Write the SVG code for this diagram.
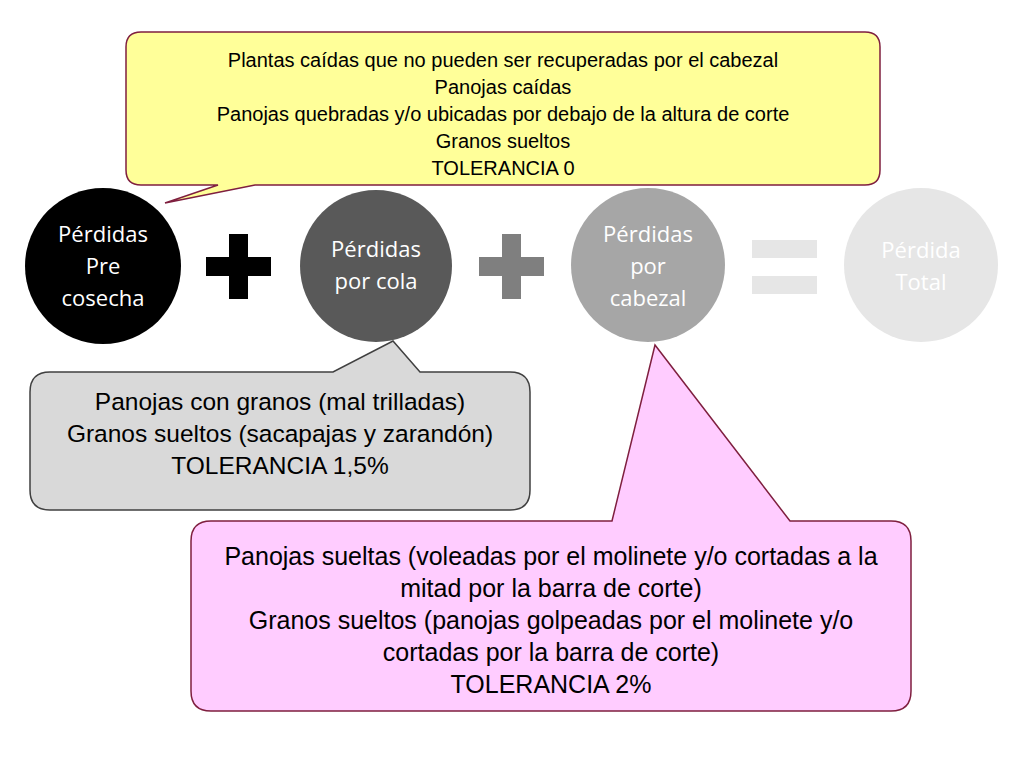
<svg xmlns="http://www.w3.org/2000/svg" width="1024" height="768" viewBox="0 0 1024 768">
<style>
.ct{font-family:"Open Sans","Liberation Sans",sans-serif;font-size:22px;fill:#fff;text-anchor:middle}
.cl{font-family:"Liberation Sans",Arial,sans-serif;text-anchor:middle;fill:#000}
</style>
<rect width="1024" height="768" fill="#fff"/>
<g id="n1"><circle cx="103" cy="266" r="78" fill="#000"/><text class="ct"><tspan x="103" y="242">Pérdidas</tspan><tspan x="103" y="274">Pre</tspan><tspan x="103" y="306">cosecha</tspan></text></g>
<g id="plus1" fill="#000"><rect x="229" y="234" width="19" height="65"/><rect x="206" y="257" width="65" height="19"/></g>
<g id="n2"><circle cx="376" cy="266" r="76" fill="#595959"/><text class="ct"><tspan x="376" y="257">Pérdidas</tspan><tspan x="376" y="289">por cola</tspan></text></g>
<g id="plus2" fill="#7f7f7f"><rect x="502" y="234" width="19" height="65"/><rect x="479" y="257" width="65" height="19"/></g>
<g id="n3"><circle cx="648" cy="265" r="77" fill="#a6a6a6"/><text class="ct"><tspan x="648" y="242">Pérdidas</tspan><tspan x="648" y="274">por</tspan><tspan x="648" y="306">cabezal</tspan></text></g>
<g id="eq" fill="#e6e6e6"><rect x="752" y="240" width="65" height="18"/><rect x="752" y="276" width="65" height="18"/></g>
<g id="n4"><circle cx="921" cy="265" r="77" fill="#e6e6e6"/><text class="ct"><tspan x="921" y="258">Pérdida</tspan><tspan x="921" y="290">Total</tspan></text></g>
<g id="callout-yellow">
<path d="M141,32 H865 Q880,32 880,47 V170 Q880,185 865,185 H255 L165,203 L218,185 H141 Q126,185 126,170 V47 Q126,32 141,32 Z" fill="#ffff99" stroke="#7f1f3f" stroke-width="1.5"/>
<text class="cl" font-size="20"><tspan x="503" y="67">Plantas caídas que no pueden ser recuperadas por el cabezal</tspan><tspan x="503" y="94">Panojas caídas</tspan><tspan x="503" y="121">Panojas quebradas y/o ubicadas por debajo de la altura de corte</tspan><tspan x="503" y="148">Granos sueltos</tspan><tspan x="503" y="175">TOLERANCIA 0</tspan></text>
</g>
<g id="callout-gray">
<path d="M50,372 H333 L393,341 L420,372 H510 Q530,372 530,392 V490 Q530,510 510,510 H50 Q30,510 30,490 V392 Q30,372 50,372 Z" fill="#d9d9d9" stroke="#404040" stroke-width="1.5"/>
<text class="cl" font-size="24.5"><tspan x="280" y="410">Panojas con granos (mal trilladas)</tspan><tspan x="280" y="442">Granos sueltos (sacapajas y zarandón)</tspan><tspan x="280" y="474">TOLERANCIA 1,5%</tspan></text>
</g>
<g id="callout-pink">
<path d="M211,521 H612 L655,345 L790,521 H891 Q911,521 911,541 V691 Q911,711 891,711 H211 Q191,711 191,691 V541 Q191,521 211,521 Z" fill="#ffccff" stroke="#7f1f3f" stroke-width="1.5"/>
<text class="cl" font-size="25"><tspan x="551" y="565">Panojas sueltas (voleadas por el molinete y/o cortadas a la</tspan><tspan x="551" y="597">mitad por la barra de corte)</tspan><tspan x="551" y="629">Granos sueltos (panojas golpeadas por el molinete y/o</tspan><tspan x="551" y="661">cortadas por la barra de corte)</tspan><tspan x="551" y="693">TOLERANCIA 2%</tspan></text>
</g>
<g id="connectors"/>
</svg>
